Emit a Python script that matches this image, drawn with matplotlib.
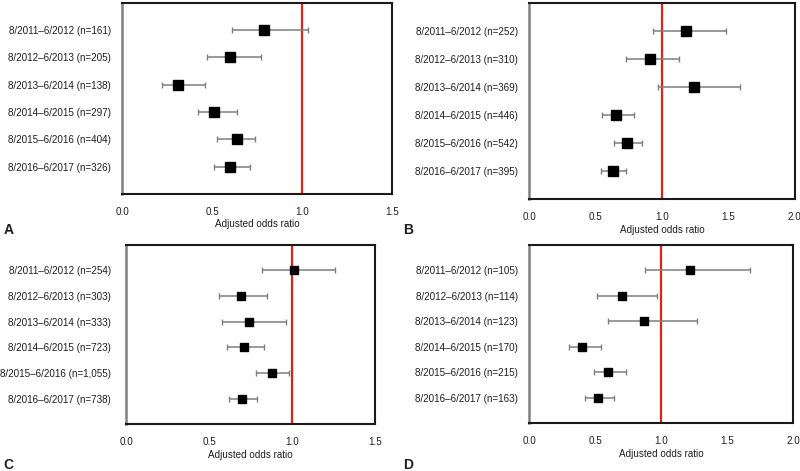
import matplotlib

matplotlib.use("Agg")
import matplotlib.pyplot as plt
import numpy as np

plt.rcParams["font.family"] = ["Liberation Sans", "DejaVu Sans"]

periods = [
    "8/2011–6/2012",
    "8/2012–6/2013",
    "8/2013–6/2014",
    "8/2014–6/2015",
    "8/2015–6/2016",
    "8/2016–6/2017",
]

# panel A
n_a = [161, 205, 138, 297, 404, 326]
or_a = [0.79, 0.60, 0.31, 0.51, 0.64, 0.60]
lo_a = [0.61, 0.47, 0.22, 0.42, 0.53, 0.51]
hi_a = [1.035, 0.77, 0.46, 0.64, 0.74, 0.71]

# panel B
n_b = [252, 310, 369, 446, 542, 395]
or_b = [1.18, 0.91, 1.24, 0.65, 0.74, 0.63]
lo_b = [0.93, 0.73, 0.97, 0.55, 0.64, 0.54]
hi_b = [1.48, 1.13, 1.59, 0.79, 0.85, 0.73]

# panel C
n_c = [254, 303, 333, 723, 1055, 738]
or_c = [1.01, 0.69, 0.74, 0.71, 0.88, 0.70]
lo_c = [0.82, 0.56, 0.58, 0.61, 0.78, 0.62]
hi_c = [1.26, 0.85, 0.96, 0.83, 0.98, 0.79]

# panel D
n_d = [105, 114, 123, 170, 215, 163]
or_d = [1.22, 0.70, 0.87, 0.40, 0.60, 0.52]
lo_d = [0.88, 0.51, 0.60, 0.30, 0.49, 0.42]
hi_d = [1.67, 0.97, 1.27, 0.54, 0.73, 0.64]

xmax = {"A": 1.5, "B": 2.0, "C": 1.5, "D": 2.0}

fig = plt.figure(figsize=(8, 4.71), dpi=100)

panels = [
    ("A", [0.1525, 0.588, 0.3375, 0.4062], n_a, or_a, lo_a, hi_a, 8, 7.8),
    ("B", [0.6616, 0.577, 0.3318, 0.4161], n_b, or_b, lo_b, hi_b, 8, 7.3),
    ("C", [0.1579, 0.0992, 0.3109, 0.3813], n_c, or_c, lo_c, hi_c, 11, 6.4),
    ("D", [0.6616, 0.1013, 0.3300, 0.3792], n_d, or_d, lo_d, hi_d, 8, 6.4),
]

txt = "#1e1e1e"
for letter, rect, n, est, lo, hi, ypad, msize in panels:
    ax = fig.add_axes(rect)
    est = np.array(est)
    y = np.arange(1, len(est) + 1)
    err = [est - np.array(lo), np.array(hi) - est]
    ax.errorbar(
        est, y, xerr=err, fmt="none", ecolor="#7e7e7e", elinewidth=1.1,
        capsize=2.2, capthick=1.0, zorder=2,
    )
    ax.plot(est, y, "s", color="black", markersize=msize, zorder=3)
    ax.axvline(1.0, color="#e0201b", lw=1.6, zorder=1)

    ax.set_xlim(0, xmax[letter])
    ax.set_ylim(7, 0)
    ax.set_xticks(np.arange(0, xmax[letter] + 0.01, 0.5))
    ax.set_xticklabels([f"{t:.1f}" for t in ax.get_xticks()])
    ax.set_yticks(y)
    ax.set_yticklabels([f"{p} (n={k:,})" for p, k in zip(periods, n)])
    ax.tick_params(axis="x", length=0, pad=9, labelsize=7.1, labelcolor=txt)
    ax.tick_params(axis="y", length=0, pad=ypad, labelsize=7.1, labelcolor=txt)
    ax.set_xlabel("Adjusted odds ratio", fontsize=7.1, color=txt, labelpad=2)

    for side in ["top", "right", "bottom"]:
        ax.spines[side].set_color("#1a1a1a")
        ax.spines[side].set_linewidth(1.5)
    ax.spines["left"].set_color("#808080")
    ax.spines["left"].set_linewidth(1.8)

    # panel letter
    x0 = 0.004 if letter in ("A", "C") else 0.504
    yl = 1 - 230 / 471 if letter in ("A", "B") else 1 - 465 / 471
    fig.text(x0, yl, letter, fontsize=10, fontweight="bold", color=txt,
             va="center", ha="left")

fig.savefig("out.png", dpi=100)
